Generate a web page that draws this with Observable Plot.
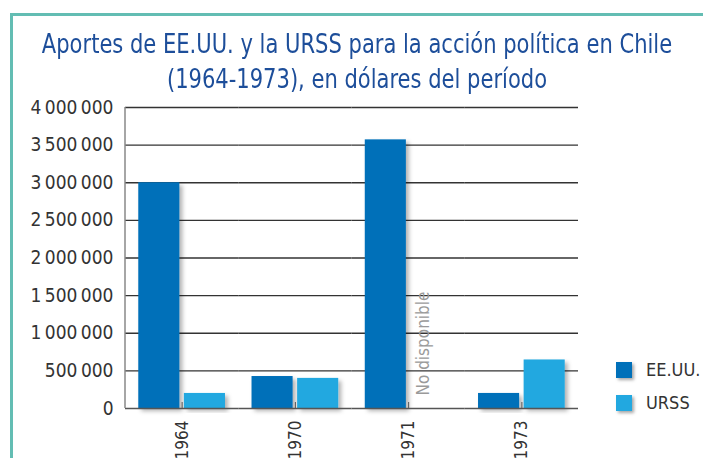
<!DOCTYPE html>
<html><head><meta charset="utf-8">
<script src="https://cdn.jsdelivr.net/npm/d3@7"></script>
<script src="https://cdn.jsdelivr.net/npm/@observablehq/plot@0.6"></script>
<style>
html,body{margin:0;padding:0;background:#fff;}
#page{position:relative;width:703px;height:458px;overflow:hidden;font-family:"DejaVu Sans Condensed","Liberation Sans Narrow",sans-serif;}
#frame{position:absolute;left:10px;top:13px;width:720px;height:500px;border-left:3px solid #63bdb3;border-top:3px solid #63bdb3;}
#title{position:absolute;left:-93px;width:900px;top:27px;text-align:center;white-space:nowrap;color:#1d4e9a;font-size:26px;line-height:35px;transform:scaleX(0.9);transform-origin:50% 0;}
#chart{position:absolute;left:0;top:95px;}
#legend{position:absolute;left:616px;top:353px;color:#333;font-size:18px;}
.li{display:flex;align-items:center;height:33px;}
.sw{width:16px;height:16px;margin-right:14px;box-shadow:2px 2px 3px rgba(0,0,0,0.35);}
</style></head>
<body><div id="page">
<div id="frame"></div>
<div id="title">Aportes de EE.UU. y la URSS para la acción política en Chile<br>(1964-1973), en dólares del período</div>
<div id="chart"></div>
<div id="legend"></div>
</div>
<script>
const years = ["1964", "1970", "1971", "1973"];
const series = ["EE.UU.", "URSS"];
const eeuu = [3000000, 425000, 3570000, 200000];
const urss = [200000, 400000, null, 645000];
const yTicks = [0, 500000, 1000000, 1500000, 2000000, 2500000, 3000000, 3500000, 4000000];
const colors = ["#0070b9", "#22a8e0"];
const notAvailable = [{year: "1971", series: "URSS", label: "No disponible"}];

const rows = [];
years.forEach((y, i) => {
  if (eeuu[i] != null) rows.push({year: y, series: series[0], value: eeuu[i]});
  if (urss[i] != null) rows.push({year: y, series: series[1], value: urss[i]});
});

const fmt = d3.formatLocale({thousands: "\u2009", grouping: [3], decimal: ",", currency: ["$", ""]}).format(",");
const font = '"DejaVu Sans Condensed","Liberation Sans Narrow",sans-serif';

const chart = Plot.plot({
  width: 703, height: 363,
  marginLeft: 125, marginRight: 125, marginTop: 12, marginBottom: 50,
  style: {fontFamily: font, fontSize: "19px", color: "#333", background: "transparent"},
  fx: {domain: years, padding: 0, label: null, round: false},
  x: {domain: series, paddingInner: 0.099, paddingOuter: 0.291, round: false, axis: null},
  y: {domain: [0, 4000000], label: null},
  color: {domain: series, range: colors},
  marks: [
    Plot.gridY(yTicks.filter(d => d > 0), {stroke: "#333", strokeOpacity: 1, strokeWidth: 1.4}),
    Plot.axisY(yTicks, {tickSize: 0, tickPadding: 12, tickFormat: fmt, fontSize: 19, label: null, fill: "#333"}),
    Plot.barY(rows, {fx: "year", x: "series", y: "value", fill: "series"}),
    Plot.ruleY([0], {stroke: "#555", strokeWidth: 1.5}),
    Plot.axisFx({anchor: "bottom", tickSize: -6, tickPadding: 18, tickRotate: -90, fontSize: 17, label: null, stroke: "#555", fill: "#333"}),
    Plot.text(notAvailable, {fx: "year", x: "series", y: 0, text: "label", rotate: -90, textAnchor: "start", dy: -13, dx: -8, fill: "#9a9a9a", fontSize: 17})
  ]
});
document.getElementById("chart").appendChild(chart);

// drop shadows on bars and left axis line
const svg = d3.select(chart);
const defs = svg.insert("defs", ":first-child");
defs.append("filter").attr("id", "shadow").attr("x", "-20%").attr("y", "-20%").attr("width", "150%").attr("height", "150%")
  .append("feDropShadow").attr("dx", 3).attr("dy", 3).attr("stdDeviation", 2).attr("flood-color", "#000").attr("flood-opacity", 0.3);
svg.selectAll('g[aria-label="bar"] rect').attr("filter", "url(#shadow)");
const ys = chart.scale("y");
svg.append("line").attr("x1", 125).attr("x2", 125).attr("y1", ys.apply(0)).attr("y2", ys.apply(4000000))
  .attr("stroke", "#888").attr("stroke-width", 1.5);

const legend = d3.select("#legend");
series.forEach((s, i) => {
  const li = legend.append("div").attr("class", "li");
  li.append("div").attr("class", "sw").style("background", colors[i]);
  li.append("span").text(s);
});
</script>
</body></html>
